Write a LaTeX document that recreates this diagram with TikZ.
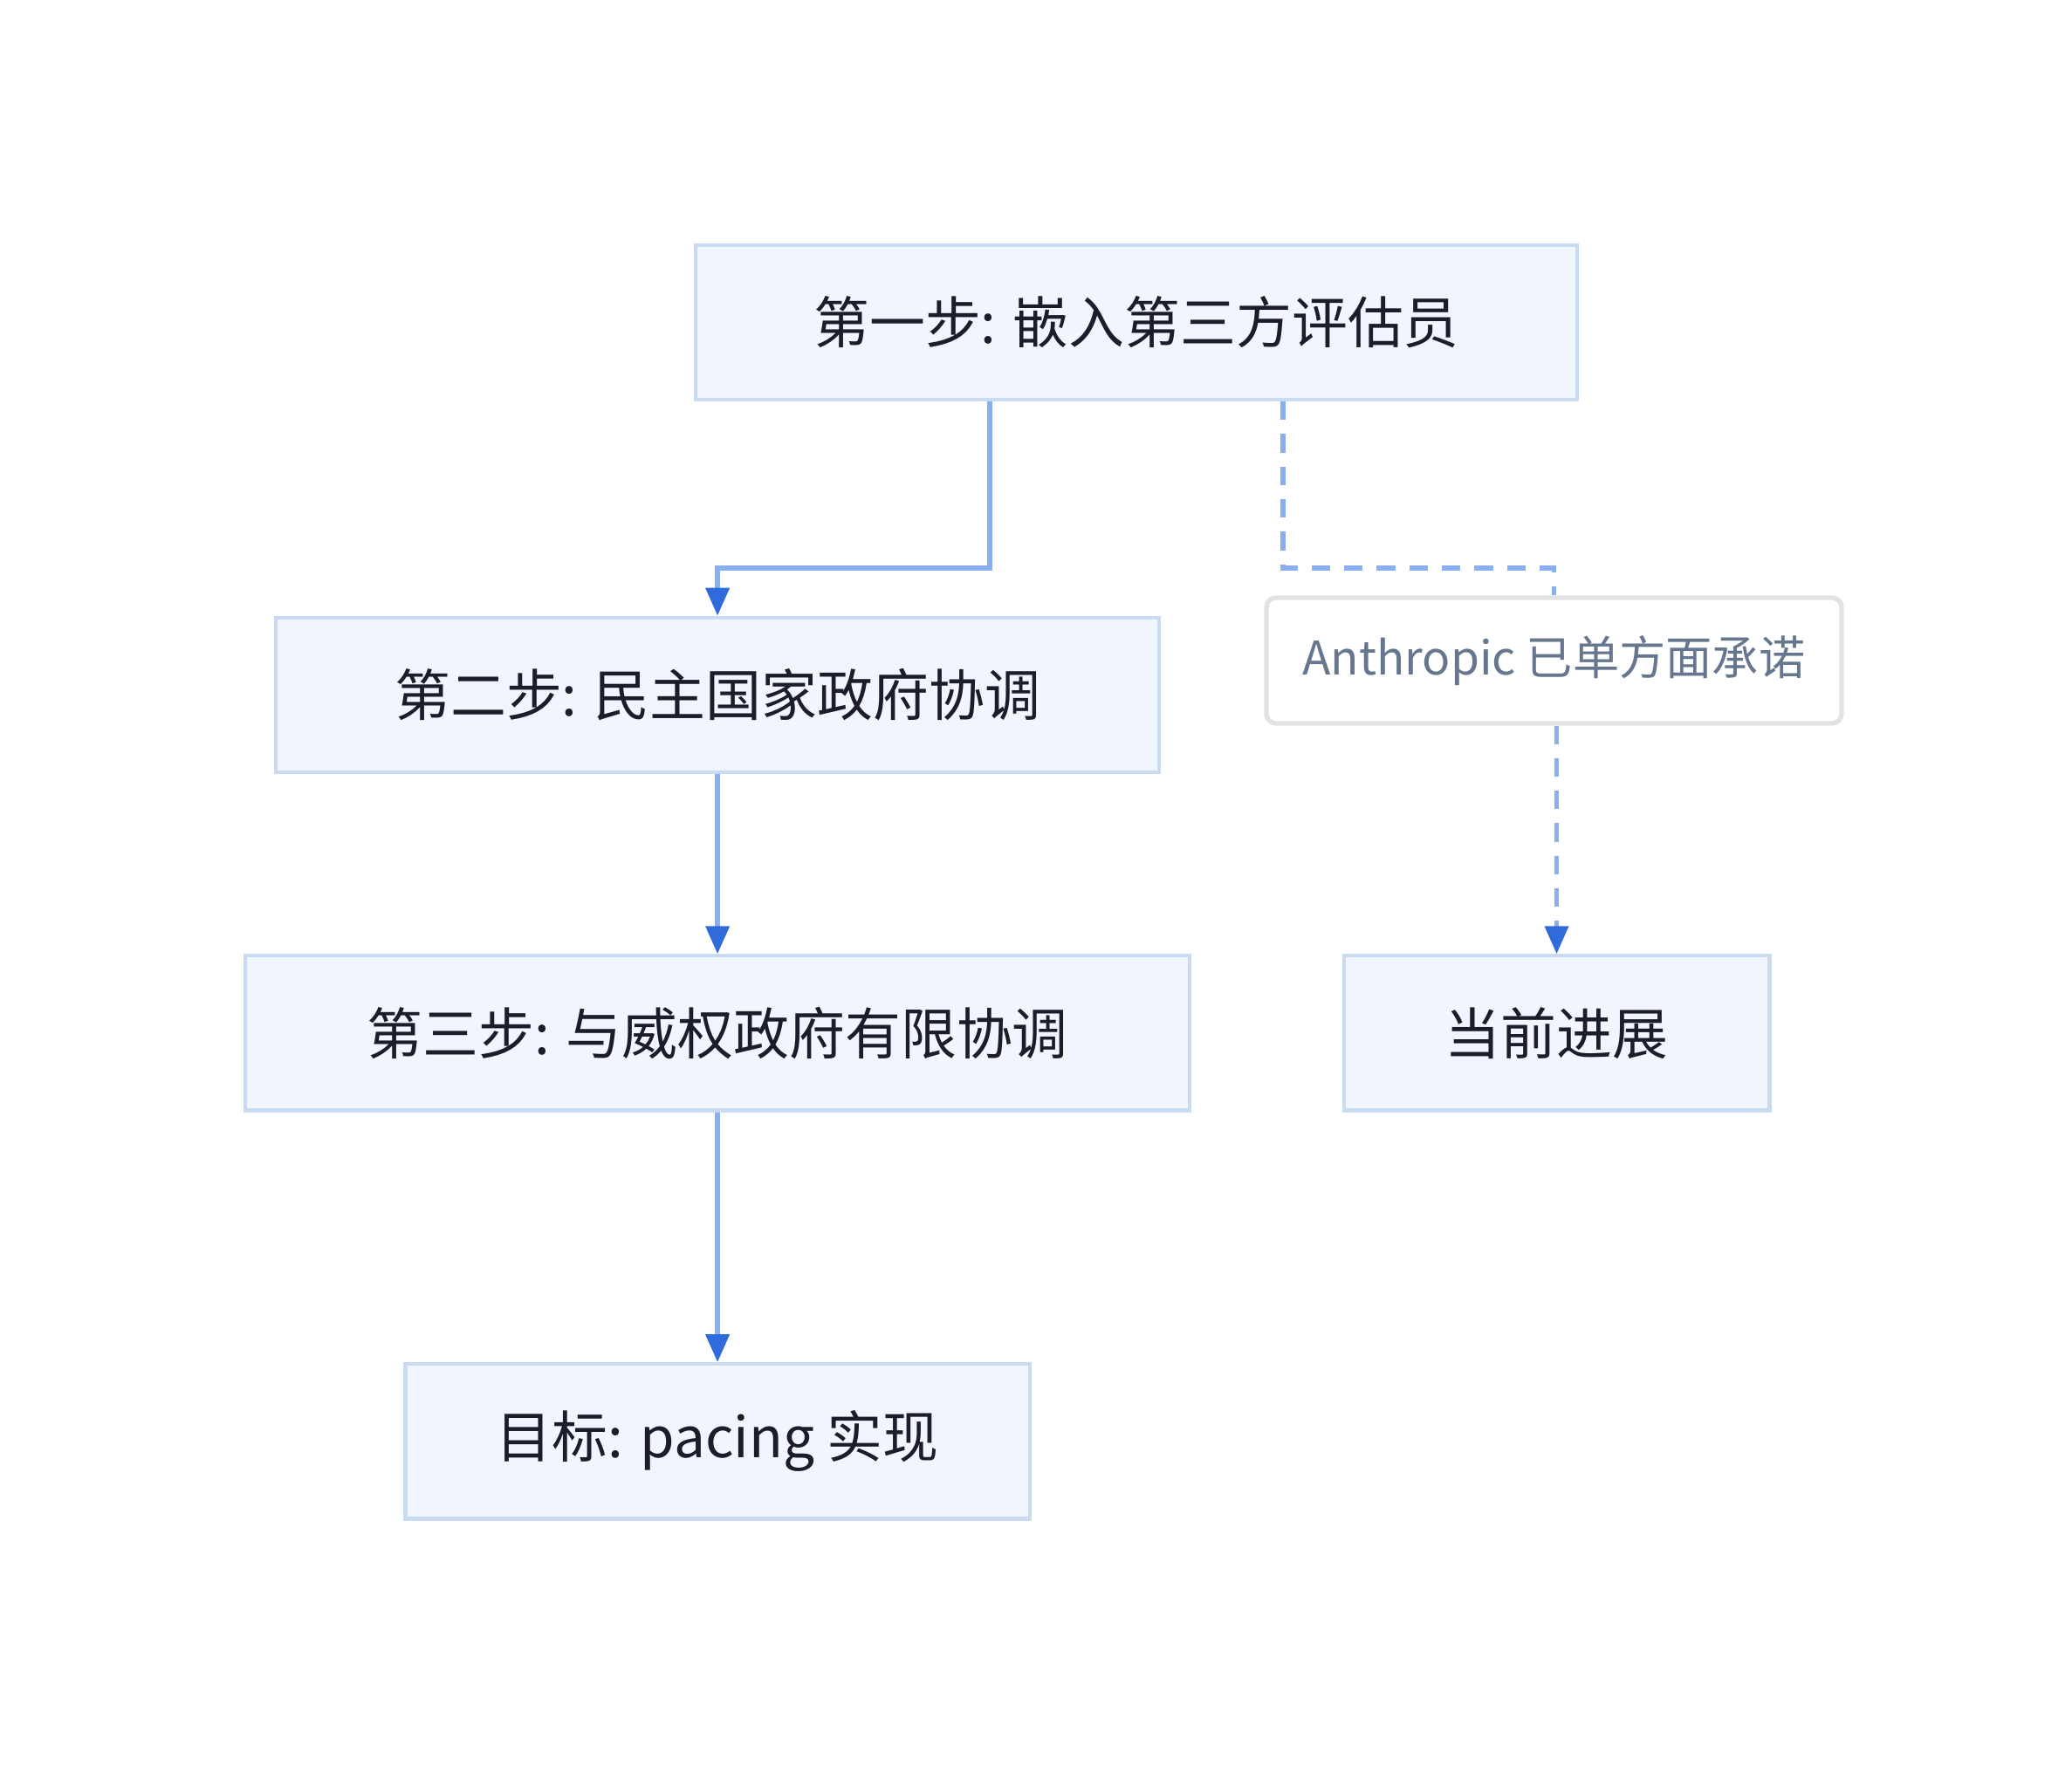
\documentclass[tikz,border=0pt]{standalone}
\usepackage{fontspec}
\setmainfont{Noto Sans CJK SC}
\usetikzlibrary{positioning,arrows.meta}
\definecolor{boxfill}{HTML}{F0F5FE}
\definecolor{boxline}{HTML}{C9DAF3}
\definecolor{linkblue}{HTML}{8AAEEE}
\definecolor{tipblue}{HTML}{2F6BDB}
\definecolor{notegray}{HTML}{E2E2E2}
\definecolor{notetext}{HTML}{66768F}
\definecolor{maintext}{HTML}{1C1C2A}
\begin{document}
\begin{tikzpicture}[x=0.01cm,y=-0.01cm]
		\tikzstyle{stepblock} = [rectangle, draw = boxline, fill = boxfill, line width = 0.8pt, align = center, minimum height = 1.17cm, text = maintext, font = \fontsize{12}{14}\selectfont];
		\tikzstyle{noteblock} = [rectangle, rounded corners = 2pt, draw = notegray, fill = white, line width = 1pt, minimum height = 0.95cm, minimum width = 4.35cm, text = notetext, font = \fontsize{10}{12}\selectfont];
		\tikzstyle{mainpath} = [draw = linkblue, line width = 1pt, -{Triangle[length = 6pt, width = 5pt, color = tipblue]}];
		\tikzstyle{notepath} = [mainpath, dashed, dash pattern = on 4pt off 3pt];
		\useasboundingbox (0,0) rectangle (1568,1337);
		\node (s1) at (860,244) [stepblock, minimum width = 6.67cm] {第一步: 嵌入第三方评估员};
		\node (s2) at (543,526) [stepblock, minimum width = 6.68cm] {第二步: 民主国家政府协调};
		\node (s3) at (543,782) [stepblock, minimum width = 7.14cm] {第三步: 与威权政府有限协调};
		\node (goal) at (543,1091) [stepblock, minimum width = 4.72cm] {目标: pacing 实现};
		\node (note) at (1176,500) [noteblock] {Anthropic 已单方面承诺};
		\node (now) at (1178,782) [stepblock, minimum width = 3.22cm] {当前进展};
		\coordinate (k1) at (749,430);
		\coordinate (k2) at (971,430);
		\path [mainpath] (s1.south -| k1) -- (k1) -| (s2);
		\path [mainpath] (s2) -- (s3);
		\path [mainpath] (s3) -- (goal);
		\path [notepath, -] (s1.south -| k2) -- (k2) -| (note.north);
		\path [notepath] (note.south -| now) -- (now);
	\end{tikzpicture}
\end{document}
